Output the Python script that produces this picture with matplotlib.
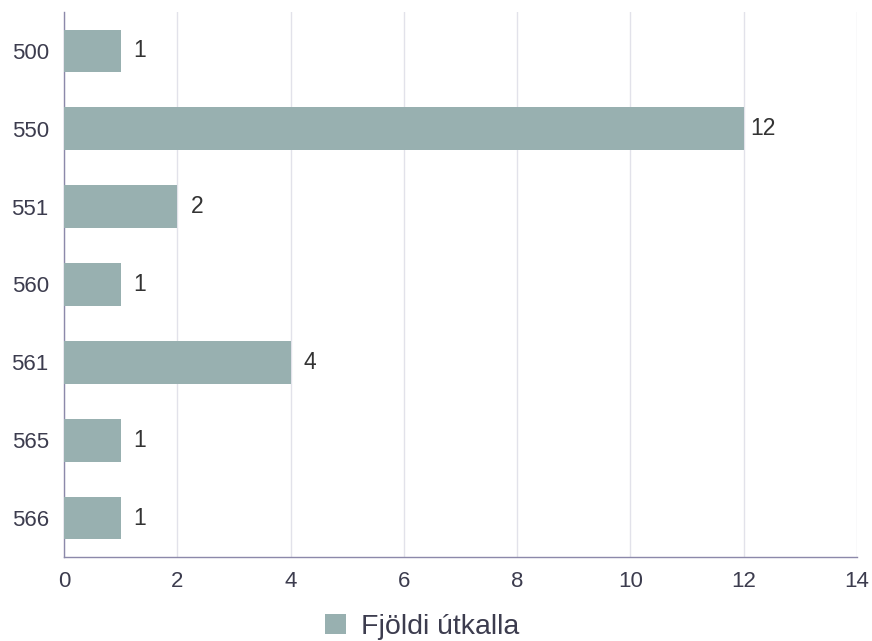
import matplotlib
matplotlib.use("Agg")
import matplotlib.pyplot as plt
from matplotlib.patches import Patch

categories = ["500", "550", "551", "560", "561", "565", "566"]
values = [1, 12, 2, 1, 4, 1, 1]
xticks = [0, 2, 4, 6, 8, 10, 12, 14]
series_name = "Fjöldi útkalla"

plt.rcParams['font.family'] = ['Liberation Sans', 'DejaVu Sans']

bar_color = "#98b0b0"
axis_color = "#8c89aa"
grid_color = "#e2e2ea"
text_color = "#3c3c4e"

fig = plt.figure(figsize=(8.72, 6.41), dpi=100)
ax = fig.add_axes([64/872, 1-557/641, (857-64)/872, (557-12)/641])

y = list(range(len(categories)))
ax.barh(y, values, height=0.55, color=bar_color, zorder=3)
for yi, v in zip(y, values):
    ax.annotate(str(v), (v, yi), xytext=(14, 0), textcoords="offset points",
                va="center", ha="center", fontsize=16.5, color="#333333")

ax.set_xlim(0, 14)
ax.set_ylim(6.5, -0.5)
ax.set_xticks(xticks)
ax.set_xticklabels([str(t) for t in xticks])
ax.set_yticks(y)
ax.set_yticklabels(categories)
ax.tick_params(axis="both", length=0, labelsize=16, labelcolor=text_color)
ax.tick_params(axis="x", pad=10)
ax.tick_params(axis="y", pad=11)
ax.xaxis.grid(True, color=grid_color, linewidth=1, zorder=0)
ax.set_axisbelow(True)
for s in ["top", "right"]:
    ax.spines[s].set_visible(False)
for s in ["left", "bottom"]:
    ax.spines[s].set_color(axis_color)
    ax.spines[s].set_linewidth(1)

handles = [Patch(facecolor=bar_color, edgecolor="none", label=series_name)]
fig.legend(handles=handles, loc="center", bbox_to_anchor=(422/872, 1-627/641),
           frameon=False, fontsize=20.5, handlelength=0.73, handleheight=0.73,
           handletextpad=0.52, labelcolor=text_color, borderpad=0, borderaxespad=0)

fig.savefig("out.png", dpi=100)
